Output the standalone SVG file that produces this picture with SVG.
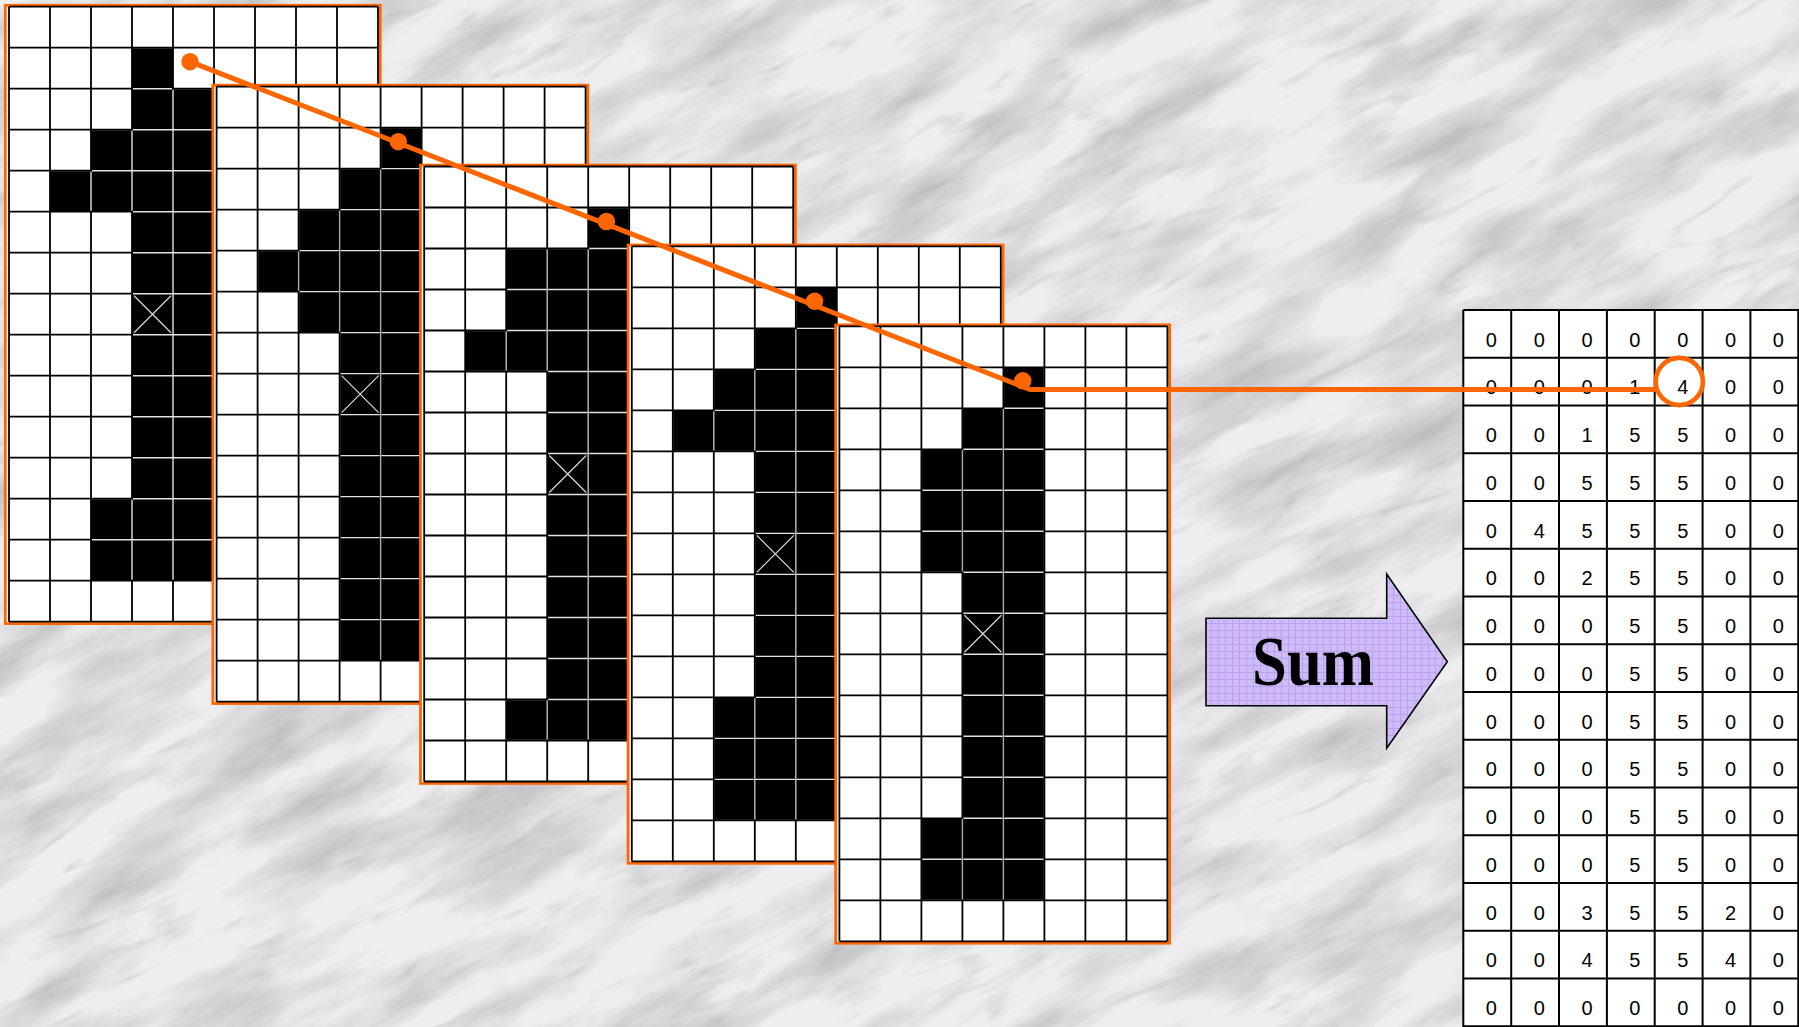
<svg xmlns="http://www.w3.org/2000/svg" xmlns:xlink="http://www.w3.org/1999/xlink" width="1799" height="1027" viewBox="0 0 1799 1027">
<style>
.fr{fill:#fff;stroke:#ff6600;stroke-width:2.8}
.gl{fill:none;stroke:#000;stroke-width:1.8}
.lt{fill:none;stroke:#e2e2e2;stroke-width:1.4}
.or{fill:none;stroke:#ff6600;stroke-width:5;stroke-linejoin:round}
.dot{fill:#ff6600}
.num{font-family:"Liberation Sans",Arial,sans-serif;font-size:20px;fill:#000;text-anchor:middle}
.rg{fill:none;stroke:#000;stroke-width:2}
.sum{font-family:"Liberation Serif","Times New Roman",serif;font-weight:bold;font-size:70px;fill:#000;text-anchor:middle}
</style>
<defs>
<filter id="clouds" x="0" y="0" width="1" height="1">
<feTurbulence type="fractalNoise" baseFrequency="0.006 0.02" numOctaves="5" seed="11"/>
<feColorMatrix type="matrix" values="0 0 0 0 0.50  0 0 0 0 0.50  0 0 0 0 0.52  1.9 0 0 0 -0.72"/>
</filter>
<filter id="marble" x="0" y="0" width="1" height="1">
<feTurbulence type="turbulence" baseFrequency="0.004 0.016" numOctaves="5" seed="7"/>
<feColorMatrix type="matrix" values="0 0 0 0 0.40  0 0 0 0 0.40  0 0 0 0 0.42  -2 0 0 0 0.34"/>
</filter>
<filter id="er"><feMorphology operator="erode" radius="1.2"/></filter>
<pattern id="pg" width="7" height="7" patternUnits="userSpaceOnUse"><rect width="7" height="7" fill="#cfbbf7"/><path d="M0 0.5H7M0.5 0V7" stroke="#bba2f0" stroke-width="1"/></pattern>
<g id="L9"><path d="M0 0V615M41 0V615M82 0V615M123 0V615M164 0V615M205 0V615M246 0V615M287 0V615M328 0V615M369 0V615M0 0H369M0 41H369M0 82H369M0 123H369M0 164H369M0 205H369M0 246H369M0 287H369M0 328H369M0 369H369M0 410H369M0 451H369M0 492H369M0 533H369M0 574H369M0 615H369"/></g>
<g id="L8"><path d="M0 0V615M41 0V615M82 0V615M123 0V615M164 0V615M205 0V615M246 0V615M287 0V615M328 0V615M0 0H328M0 41H328M0 82H328M0 123H328M0 164H328M0 205H328M0 246H328M0 287H328M0 328H328M0 369H328M0 410H328M0 451H328M0 492H328M0 533H328M0 574H328M0 615H328"/></g>
<path id="X" d="M125 289L162 326M162 289L125 326" stroke="#d4d4d4" stroke-width="1.3" fill="none"/>
<g id="b1"><rect x="41" y="164" width="41" height="41"/><rect x="82" y="123" width="41" height="82"/><rect x="82" y="492" width="41" height="82"/><rect x="123" y="41" width="41" height="533"/><rect x="164" y="82" width="41" height="492"/></g>
<g id="b2"><rect x="41" y="164" width="41" height="41"/><rect x="82" y="123" width="41" height="123"/><rect x="123" y="82" width="41" height="492"/><rect x="164" y="41" width="41" height="533"/></g>
<g id="b3"><rect x="41" y="164" width="41" height="41"/><rect x="82" y="82" width="41" height="123"/><rect x="82" y="533" width="41" height="41"/><rect x="123" y="82" width="41" height="492"/><rect x="164" y="41" width="41" height="533"/></g>
<g id="b4"><rect x="41" y="164" width="41" height="41"/><rect x="82" y="123" width="41" height="82"/><rect x="82" y="451" width="41" height="123"/><rect x="123" y="82" width="41" height="492"/><rect x="164" y="41" width="41" height="533"/></g>
<g id="b5"><rect x="82" y="123" width="41" height="123"/><rect x="82" y="492" width="41" height="82"/><rect x="123" y="82" width="41" height="492"/><rect x="164" y="41" width="41" height="533"/></g>
<mask id="m1"><use href="#b1" fill="#fff" filter="url(#er)"/></mask>
<mask id="m2"><use href="#b2" fill="#fff" filter="url(#er)"/></mask>
<mask id="m3"><use href="#b3" fill="#fff" filter="url(#er)"/></mask>
<mask id="m4"><use href="#b4" fill="#fff" filter="url(#er)"/></mask>
<mask id="m5"><use href="#b5" fill="#fff" filter="url(#er)"/></mask>
</defs>

<rect width="1799" height="1027" fill="#eeeef1"/>
<g transform="rotate(-28 900 513)"><rect x="-700" y="-900" width="3200" height="2800" fill="#888" filter="url(#clouds)"/></g>
<g transform="rotate(-28 900 513)"><rect x="-700" y="-900" width="3200" height="2800" fill="#888" filter="url(#marble)"/></g>

<g id="frame1" transform="translate(9,6.7)">
<rect class="fr" x="-3.7" y="-1.4" width="374.9" height="618.3"/>
<use href="#b1"/>
<use href="#L9" class="gl"/>
<use href="#L9" class="lt" mask="url(#m1)"/>
<use href="#X"/>
</g>
<g id="frame2" transform="translate(216.6,86.6)">
<rect class="fr" x="-3.7" y="-1.4" width="374.9" height="618.3"/>
<use href="#b2"/>
<use href="#L9" class="gl"/>
<use href="#L9" class="lt" mask="url(#m2)"/>
<use href="#X"/>
</g>
<g id="frame3" transform="translate(424.2,166.5)">
<rect class="fr" x="-3.7" y="-1.4" width="374.9" height="618.3"/>
<use href="#b3"/>
<use href="#L9" class="gl"/>
<use href="#L9" class="lt" mask="url(#m3)"/>
<use href="#X"/>
</g>
<g id="frame4" transform="translate(631.8,246.4)">
<rect class="fr" x="-3.7" y="-1.4" width="374.9" height="618.3"/>
<use href="#b4"/>
<use href="#L9" class="gl"/>
<use href="#L9" class="lt" mask="url(#m4)"/>
<use href="#X"/>
</g>
<g id="frame5" transform="translate(839.4,326.3)">
<rect class="fr" x="-3.7" y="-1.4" width="333.9" height="618.3"/>
<use href="#b5"/>
<use href="#L8" class="gl"/>
<use href="#L8" class="lt" mask="url(#m5)"/>
<use href="#X"/>
</g>

<g id="sum-arrow">
<polygon points="1206,618.3 1386.7,618.3 1386.7,574 1447.3,661.7 1386.7,748.3 1386.7,705.7 1206,705.7" fill="url(#pg)" stroke="#000" stroke-width="1.6" stroke-linejoin="miter"/>
<text class="sum" x="1313" y="685" textLength="122" lengthAdjust="spacingAndGlyphs">Sum</text>
</g>

<g id="result">
<rect x="1463.3" y="310" width="340" height="720" fill="#fff"/>
<path class="rg" d="M1463.3 310V1030M1511.2 310V1030M1559 310V1030M1606.9 310V1030M1654.7 310V1030M1702.6 310V1030M1750.4 310V1030M1798.3 310V1030M1463.3 310H1800M1463.3 357.75H1800M1463.3 405.5H1800M1463.3 453.25H1800M1463.3 501H1800M1463.3 548.75H1800M1463.3 596.5H1800M1463.3 644.25H1800M1463.3 692H1800M1463.3 739.75H1800M1463.3 787.5H1800M1463.3 835.25H1800M1463.3 883H1800M1463.3 930.75H1800M1463.3 978.5H1800M1463.3 1026.25H1800"/>
<g class="num">
<text x="1491.3" y="346.5">0</text><text x="1539.2" y="346.5">0</text><text x="1587" y="346.5">0</text><text x="1634.9" y="346.5">0</text><text x="1682.7" y="346.5">0</text><text x="1730.6" y="346.5">0</text><text x="1778.4" y="346.5">0</text>
<text x="1491.3" y="394.25">0</text><text x="1539.2" y="394.25">0</text><text x="1587" y="394.25">0</text><text x="1634.9" y="394.25">1</text><text x="1682.7" y="394.25">4</text><text x="1730.6" y="394.25">0</text><text x="1778.4" y="394.25">0</text>
<text x="1491.3" y="442">0</text><text x="1539.2" y="442">0</text><text x="1587" y="442">1</text><text x="1634.9" y="442">5</text><text x="1682.7" y="442">5</text><text x="1730.6" y="442">0</text><text x="1778.4" y="442">0</text>
<text x="1491.3" y="489.75">0</text><text x="1539.2" y="489.75">0</text><text x="1587" y="489.75">5</text><text x="1634.9" y="489.75">5</text><text x="1682.7" y="489.75">5</text><text x="1730.6" y="489.75">0</text><text x="1778.4" y="489.75">0</text>
<text x="1491.3" y="537.5">0</text><text x="1539.2" y="537.5">4</text><text x="1587" y="537.5">5</text><text x="1634.9" y="537.5">5</text><text x="1682.7" y="537.5">5</text><text x="1730.6" y="537.5">0</text><text x="1778.4" y="537.5">0</text>
<text x="1491.3" y="585.25">0</text><text x="1539.2" y="585.25">0</text><text x="1587" y="585.25">2</text><text x="1634.9" y="585.25">5</text><text x="1682.7" y="585.25">5</text><text x="1730.6" y="585.25">0</text><text x="1778.4" y="585.25">0</text>
<text x="1491.3" y="633">0</text><text x="1539.2" y="633">0</text><text x="1587" y="633">0</text><text x="1634.9" y="633">5</text><text x="1682.7" y="633">5</text><text x="1730.6" y="633">0</text><text x="1778.4" y="633">0</text>
<text x="1491.3" y="680.75">0</text><text x="1539.2" y="680.75">0</text><text x="1587" y="680.75">0</text><text x="1634.9" y="680.75">5</text><text x="1682.7" y="680.75">5</text><text x="1730.6" y="680.75">0</text><text x="1778.4" y="680.75">0</text>
<text x="1491.3" y="728.5">0</text><text x="1539.2" y="728.5">0</text><text x="1587" y="728.5">0</text><text x="1634.9" y="728.5">5</text><text x="1682.7" y="728.5">5</text><text x="1730.6" y="728.5">0</text><text x="1778.4" y="728.5">0</text>
<text x="1491.3" y="776.25">0</text><text x="1539.2" y="776.25">0</text><text x="1587" y="776.25">0</text><text x="1634.9" y="776.25">5</text><text x="1682.7" y="776.25">5</text><text x="1730.6" y="776.25">0</text><text x="1778.4" y="776.25">0</text>
<text x="1491.3" y="824">0</text><text x="1539.2" y="824">0</text><text x="1587" y="824">0</text><text x="1634.9" y="824">5</text><text x="1682.7" y="824">5</text><text x="1730.6" y="824">0</text><text x="1778.4" y="824">0</text>
<text x="1491.3" y="871.75">0</text><text x="1539.2" y="871.75">0</text><text x="1587" y="871.75">0</text><text x="1634.9" y="871.75">5</text><text x="1682.7" y="871.75">5</text><text x="1730.6" y="871.75">0</text><text x="1778.4" y="871.75">0</text>
<text x="1491.3" y="919.5">0</text><text x="1539.2" y="919.5">0</text><text x="1587" y="919.5">3</text><text x="1634.9" y="919.5">5</text><text x="1682.7" y="919.5">5</text><text x="1730.6" y="919.5">2</text><text x="1778.4" y="919.5">0</text>
<text x="1491.3" y="967.25">0</text><text x="1539.2" y="967.25">0</text><text x="1587" y="967.25">4</text><text x="1634.9" y="967.25">5</text><text x="1682.7" y="967.25">5</text><text x="1730.6" y="967.25">4</text><text x="1778.4" y="967.25">0</text>
<text x="1491.3" y="1015">0</text><text x="1539.2" y="1015">0</text><text x="1587" y="1015">0</text><text x="1634.9" y="1015">0</text><text x="1682.7" y="1015">0</text><text x="1730.6" y="1015">0</text><text x="1778.4" y="1015">0</text>
</g>
</g>

<g id="connectors">
<polyline class="or" points="190,61.7 1030,389.5 1655.5,389.5"/>
<circle class="dot" cx="190" cy="61.7" r="8.7"/>
<circle class="dot" cx="398.3" cy="141.7" r="8.7"/>
<circle class="dot" cx="606.4" cy="221.5" r="8.7"/>
<circle class="dot" cx="814.6" cy="301.2" r="8.7"/>
<circle class="dot" cx="1022.8" cy="380.8" r="8.7"/>
<circle cx="1679.3" cy="381.5" r="23.6" fill="none" stroke="#ff6600" stroke-width="4.6"/>
</g>
</svg>
